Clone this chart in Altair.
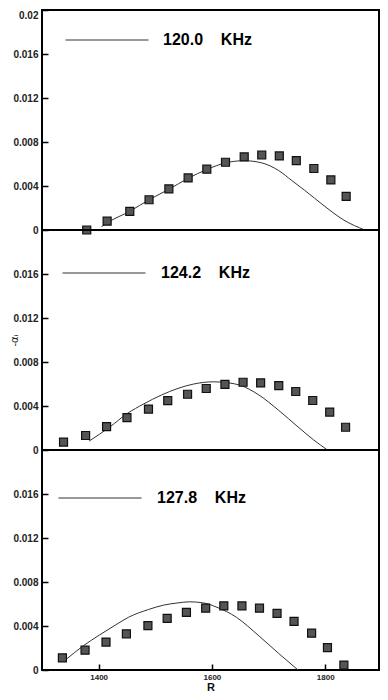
import altair as alt
import pandas as pd

FONT = "Liberation Sans"

# ---- data ----
# panel 1 : 120.0 KHz
r1_pts = [1379, 1415, 1455, 1489, 1524, 1558, 1591, 1624, 1657, 1688, 1719, 1749, 1780, 1810, 1837]
a1_pts = [0.0, 0.0008, 0.0017, 0.00275, 0.00374, 0.00473, 0.00553, 0.00616, 0.00664, 0.00682,
          0.00673, 0.00631, 0.00559, 0.00455, 0.00305]
r1_cur = [1405, 1420, 1455, 1489, 1524, 1558, 1591, 1624, 1657, 1688, 1718, 1741, 1764, 1798, 1833, 1870]
a1_cur = [0.0003, 0.0008, 0.0017, 0.00275, 0.0037, 0.0047, 0.0055, 0.0061, 0.0063, 0.0061,
          0.0054, 0.0045, 0.0036, 0.0022, 0.0009, 0.0]

# panel 2 : 124.2 KHz
r2_pts = [1338, 1377, 1414, 1450, 1488, 1522, 1557, 1590, 1623, 1655, 1686, 1718, 1748, 1778, 1808, 1836]
a2_pts = [0.00072, 0.00132, 0.00213, 0.00294, 0.00372, 0.00448, 0.00507, 0.00559, 0.00597, 0.00616,
          0.0061, 0.00586, 0.00532, 0.0045, 0.00345, 0.00207]
r2_cur = [1383, 1420, 1450, 1480, 1511, 1540, 1568, 1603, 1630, 1649, 1683, 1718, 1752, 1780, 1804]
a2_cur = [0.0008, 0.0021, 0.0033, 0.0042, 0.0050, 0.0056, 0.0060, 0.0062, 0.0061, 0.0059,
          0.0050, 0.0036, 0.0021, 0.0009, 0.0]

# panel 3 : 127.8 KHz
r3_pts = [1336, 1376, 1413, 1449, 1487, 1521, 1555, 1589, 1621, 1653, 1684, 1715, 1745, 1776, 1804, 1833]
a3_pts = [0.0011, 0.0018, 0.00254, 0.00329, 0.00404, 0.00469, 0.00523, 0.00562, 0.00583, 0.00583,
          0.00562, 0.00514, 0.00442, 0.00335, 0.00204, 0.00045]
r3_cur = [1341, 1373, 1402, 1430, 1453, 1488, 1515, 1540, 1560, 1585, 1609, 1643, 1683, 1718, 1752]
a3_cur = [0.0009, 0.0022, 0.0032, 0.0041, 0.0048, 0.0055, 0.0059, 0.0061, 0.0062, 0.0061,
          0.0057, 0.0048, 0.0031, 0.0015, 0.0]

labels = ["120.0\u00a0\u00a0\u00a0\u00a0KHz", "124.2\u00a0\u00a0\u00a0\u00a0KHz", "127.8\u00a0\u00a0\u00a0\u00a0KHz"]
x_ticks = [1400, 1600, 1800]
y_ticks_top = [0, 0.004, 0.008, 0.012, 0.016, 0.02]
y_ticks = [0, 0.004, 0.008, 0.012, 0.016]

W, H = 337, 220


def panel(r_pts, a_pts, r_cur, a_cur, label, lx, ly, lofs, yvals, show_x, ytitle):
    pts = pd.DataFrame({"R": r_pts, "a": a_pts})
    cur = pd.DataFrame({"R": r_cur, "a": a_cur, "label": label})
    xscale = alt.Scale(domain=[1300, 1895], nice=False, zero=False)
    yscale = alt.Scale(domain=[0, 0.02], nice=False)
    if show_x:
        xaxis = alt.Axis(values=x_ticks, format="d", title="R", domain=False, grid=False,
                         ticks=True, tickSize=6, offset=-6, tickColor="black", tickWidth=1.5,
                         labelPadding=3, labelFont=FONT, labelFontSize=8, labelFontWeight="bold",
                         labelColor="#222", titleFont=FONT, titleFontSize=11,
                         titleFontWeight="bold", titlePadding=0, titleColor="#111")
    else:
        xaxis = None
    yargs = dict(values=yvals, format=".3~f", domain=False, grid=False,
                 ticks=True, tickSize=6, offset=-6, tickColor="black", tickWidth=1.5,
                 labelPadding=4, labelFont=FONT, labelFontSize=10, labelFontWeight="bold",
                 labelColor="#222",
                 labelBaseline={"condition": {"test": "datum.value >= 0.02", "value": "top"},
                                "value": "middle"})
    if ytitle:
        yargs.update(title=ytitle, titleFont="DejaVu Sans", titleFontSize=10,
                     titleFontWeight="normal", titleColor="#222", titleX=-29, titleY=H / 2,
                     titleAngle=270)
    else:
        yargs.update(title=None)
    yaxis = alt.Axis(**yargs)

    line = alt.Chart(cur).mark_line(interpolate="monotone", strokeWidth=1).encode(
        x=alt.X("R:Q", scale=xscale, axis=xaxis),
        y=alt.Y("a:Q", scale=yscale, axis=yaxis),
        stroke=alt.Stroke("label:N", scale=alt.Scale(range=["#333333"]),
                          legend=alt.Legend(orient="none", legendX=lx, legendY=ly, title=None,
                                            symbolType="stroke", symbolSize=6889,
                                            symbolStrokeWidth=1, clipHeight=16,
                                            labelFont=FONT,
                                            labelFontSize=16, labelFontWeight="bold",
                                            labelColor="black", labelOffset=lofs,
                                            labelLimit=300, padding=0)),
    )
    sq = alt.Chart(pts).mark_square(size=64, fill="#555555", stroke="#111111",
                                    strokeWidth=1.2, opacity=1).encode(
        x=alt.X("R:Q", scale=xscale),
        y=alt.Y("a:Q", scale=yscale),
    )
    return alt.layer(line, sq).properties(width=W, height=H)


p1 = panel(r1_pts, a1_pts, r1_cur, a1_cur, labels[0], 23, 22, 14, y_ticks_top, False, None)
p2 = panel(r2_pts, a2_pts, r2_cur, a2_cur, labels[1], 20, 35, 15, y_ticks, False, "-\u03b1\u1d62")
p3 = panel(r3_pts, a3_pts, r3_cur, a3_cur, labels[2], 16, 40, 15, y_ticks, True, None)

chart = alt.vconcat(p1, p2, p3, spacing=0, bounds="flush").resolve_scale(
    stroke="independent"
).resolve_legend(stroke="independent").properties(
    padding={"left": 0, "top": 0, "right": 0, "bottom": 0},
    background="white",
).configure_view(stroke="black", strokeWidth=2)

chart.save("out.html", embed_options={"renderer": "svg", "actions": False})
